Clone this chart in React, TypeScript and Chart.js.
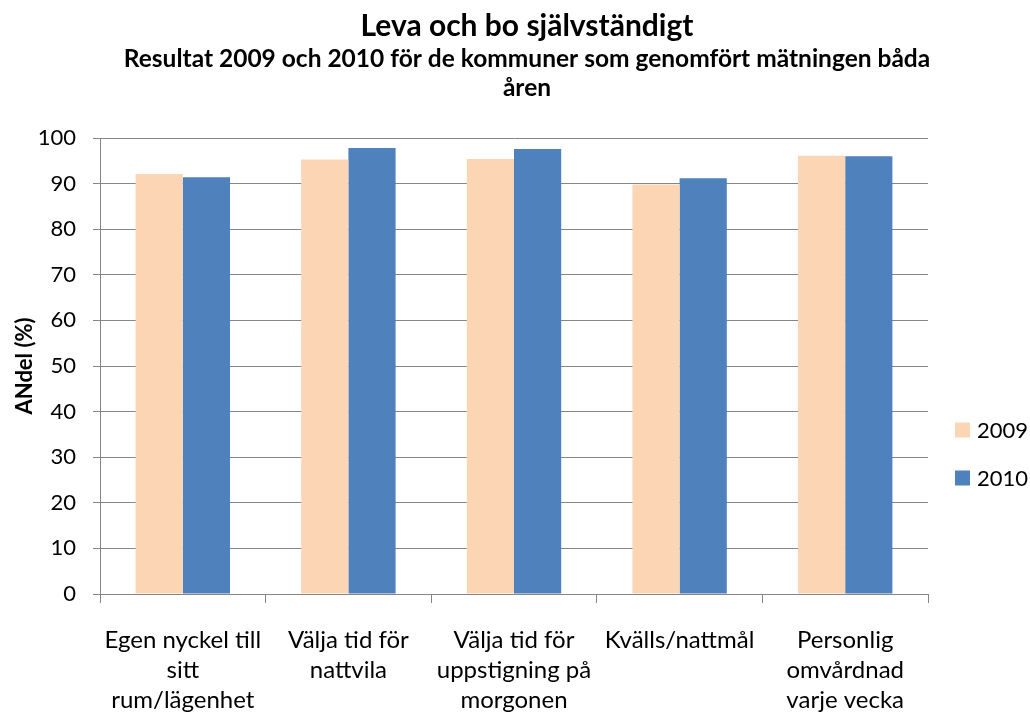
import React, { useEffect, useRef } from "react";
import { Chart, registerables } from "chart.js";

Chart.register(...registerables);

const chartTitle = "Leva och bo självständigt";
const chartSubtitle: string[] = ["Resultat 2009 och 2010 för de kommuner som genomfört mätningen båda", "åren"];
const categories: string[][] = [
  ["Egen nyckel till", "sitt", "rum/lägenhet"],
  ["Välja tid för", "nattvila"],
  ["Välja tid för", "uppstigning på", "morgonen"],
  ["Kvälls/nattmål"],
  ["Personlig", "omvårdnad", "varje vecka"],
];
const values2009: number[] = [92.1, 95.3, 95.4, 89.8, 96.1];
const values2010: number[] = [91.4, 97.8, 97.6, 91.2, 96.0];
const seriesLabels: string[] = ["2009", "2010"];
const seriesColors: string[] = ["#FCD5B5", "#4F81BD"];
const yTickStep = 10;

const FONT = "Lato, 'Open Sans', sans-serif";

const titles = {
  id: "titles",
  afterDraw(chart: any) {
    const ctx = chart.ctx;
    const cx = 527;
    ctx.save();
    ctx.fillStyle = "#000";
    ctx.textAlign = "center";
    ctx.textBaseline = "alphabetic";
    ctx.font = `bold 30px ${FONT}`;
    ctx.fillText(chartTitle, cx, 36);
    ctx.font = `bold 24.5px ${FONT}`;
    chartSubtitle.forEach((line, i) => ctx.fillText(line, cx, 67 + i * 29));
    ctx.restore();
  },
};

const sideLegend = {
  id: "sideLegend",
  afterDraw(chart: any) {
    const ctx = chart.ctx;
    const area = chart.chartArea;
    const x = area.right + 27;
    const ys = [430, 478];
    ctx.save();
    ctx.font = `22px ${FONT}`;
    ctx.textBaseline = "middle";
    ctx.textAlign = "left";
    chart.data.datasets.forEach((ds: any, i: number) => {
      const y = ys[i];
      ctx.fillStyle = ds.backgroundColor;
      ctx.fillRect(x, y - 7.5, 15, 15);
      ctx.fillStyle = "#000";
      ctx.fillText(ds.label, x + 22, y + 1);
    });
    ctx.restore();
  },
};

export default function App() {
  const ref = useRef<HTMLCanvasElement | null>(null);
  useEffect(() => {
    if (!ref.current) return;
    const chart = new Chart(ref.current, {
      type: "bar",
      data: {
        labels: categories,
        datasets: [
          { label: seriesLabels[0], data: values2009, backgroundColor: seriesColors[0] },
          { label: seriesLabels[1], data: values2010, backgroundColor: seriesColors[1] },
        ],
      },
      options: {
        animation: false,
        responsive: false,
        layout: { padding: { left: 0, right: 102, top: 138, bottom: 0 } },
        datasets: { bar: { categoryPercentage: 0.57, barPercentage: 1.0 } },
        plugins: {
          legend: { display: false },
          tooltip: { enabled: false },
          title: { display: false },
        },
        scales: {
          x: {
            afterFit: (s: any) => {
              s.height = 713 - 594;
            },
            grid: {
              offset: true,
              drawOnChartArea: false,
              drawTicks: true,
              tickLength: 9,
              color: "#868686",
              lineWidth: 1,
            },
            border: { color: "#868686", width: 1 },
            ticks: {
              color: "#000",
              font: { family: FONT, size: 24, lineHeight: 1.25 },
              padding: 22,
              maxRotation: 0,
              autoSkip: false,
            },
          },
          y: {
            min: 0,
            max: 100,
            afterFit: (s: any) => {
              s.width = 100;
            },
            grid: {
              color: "#868686",
              lineWidth: 1,
              drawTicks: true,
              tickLength: 7,
            },
            border: { color: "#868686", width: 1 },
            ticks: {
              stepSize: yTickStep,
              color: "#000",
              font: { family: FONT, size: 22 },
              padding: 17,
            },
            title: {
              display: true,
              text: "ANdel (%)",
              color: "#000",
              font: { family: FONT, size: 22, weight: "bold", lineHeight: 1.2 },
              padding: { top: 12, bottom: 0 },
            },
          },
        },
      },
      plugins: [sideLegend, titles],
    });
    return () => chart.destroy();
  }, []);
  return (
    <div style={{ position: "fixed", left: 0, top: 0, width: 1030, height: 713, background: "#fff" }}>
      <canvas ref={ref} width={1030} height={713} style={{ width: 1030, height: 713 }} />
    </div>
  );
}
